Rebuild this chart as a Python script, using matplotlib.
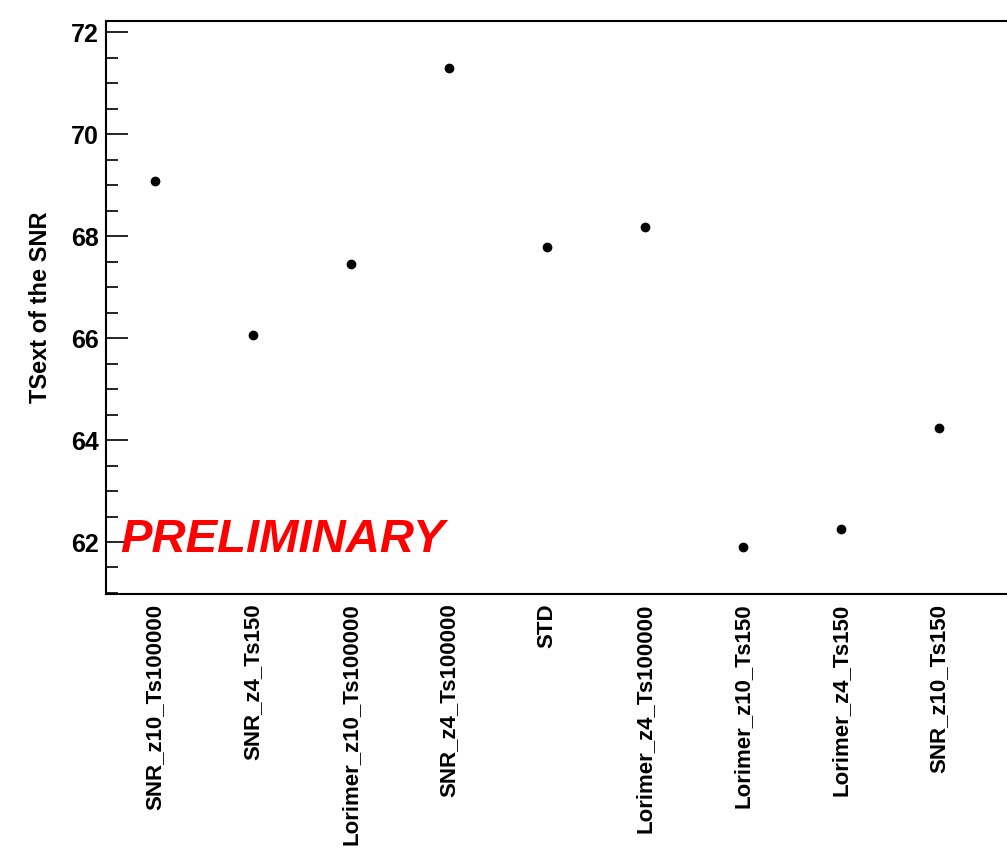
import matplotlib
matplotlib.use("Agg")
import matplotlib.pyplot as plt
from matplotlib.ticker import MultipleLocator

plt.rcParams['font.family'] = ['Liberation Sans', 'DejaVu Sans']

# model names along the x axis
models = ['SNR_z10_Ts100000', 'SNR_z4_Ts150', 'Lorimer_z10_Ts100000',
          'SNR_z4_Ts100000', 'STD', 'Lorimer_z4_Ts100000',
          'Lorimer_z10_Ts150', 'Lorimer_z4_Ts150', 'SNR_z10_Ts150']
# TSext values
tsext = [69.08, 66.06, 67.45, 71.29, 67.78, 68.18, 61.90, 62.26, 64.24]

W, H = 1007, 850
fig = plt.figure(figsize=(W/100, H/100), dpi=100)
# axes run past the right edge of the picture, like the cropped original
ax = fig.add_axes([106/W, 1-594/H, 980/W, (594-21)/H])

x = list(range(len(models)))
ax.plot(x, tsext, 'o', color='black', ms=6, ls='none')

ax.set_xlim(-0.5, 9.5)
ax.set_ylim(60.98, 72.22)

ax.yaxis.set_major_locator(MultipleLocator(2))
ax.yaxis.set_minor_locator(MultipleLocator(0.5))
ax.tick_params(axis='y', which='major', direction='in', length=16, width=1.2,
               labelsize=18, pad=5)
ax.tick_params(axis='y', which='minor', direction='in', length=8.5, width=1.2)
for lab in ax.get_yticklabels():
    lab.set_fontweight('bold')

ax.set_xticks(x)
ax.set_xticklabels(models, rotation=90, fontsize=16, fontweight='bold', va='top')
ax.tick_params(axis='x', which='both', length=0, pad=7)

for s in ['left', 'bottom', 'top']:
    ax.spines[s].set_linewidth(1.5)
ax.spines['right'].set_visible(False)

ax.set_ylabel('TSext of the SNR', fontsize=17, fontweight='bold', labelpad=14)

ax.text(120/W, 1-552/H, 'PRELIMINARY', transform=fig.transFigure, color='red',
        fontsize=34, fontweight='bold', fontstyle='italic', ha='left', va='baseline')

fig.savefig('out.png', dpi=100)
